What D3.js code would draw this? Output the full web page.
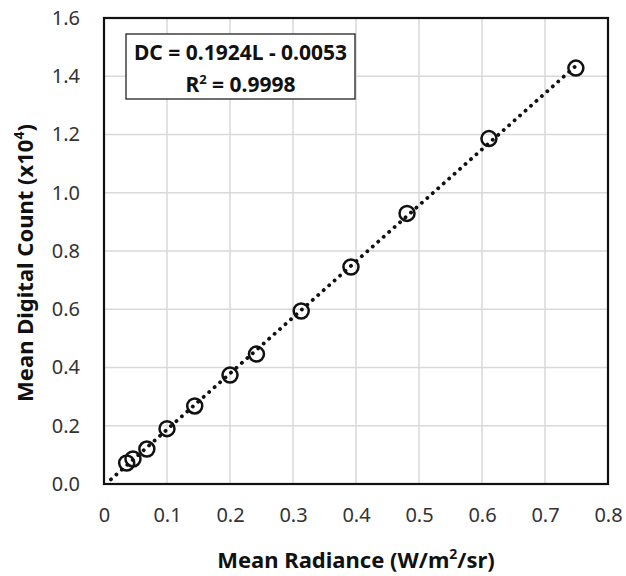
<!DOCTYPE html>
<html>
<head>
<meta charset="utf-8">
<script src="https://cdn.jsdelivr.net/npm/d3@7"></script>
<style>
  body { margin: 0; background: #fff; }
  svg { display: block; font-family: "Noto Sans", "Open Sans", sans-serif; }
</style>
</head>
<body>
<script>
// radiance (W/m2/sr) and digital count (x10^4)
const radiance = [0.036, 0.046, 0.068, 0.100, 0.144, 0.200, 0.242, 0.313, 0.392, 0.481, 0.611, 0.749];
const counts   = [0.072, 0.086, 0.120, 0.190, 0.268, 0.374, 0.446, 0.594, 0.745, 0.929, 1.186, 1.428];
const xTicks = [0, 0.1, 0.2, 0.3, 0.4, 0.5, 0.6, 0.7, 0.8];
const yTicks = [0, 0.2, 0.4, 0.6, 0.8, 1.0, 1.2, 1.4, 1.6];
// linear fit, in plot units
const fitSlope = 1.924, fitIntercept = -0.0053;
const fitRange = [0.011, 0.749];

const margin = {top: 18, right: 18, bottom: 92, left: 104};
const W = 626, H = 576;
const width = W - margin.left - margin.right;
const height = H - margin.top - margin.bottom;

const svg = d3.select('body').append('svg')
  .attr('width', W)
  .attr('height', H);

const g = svg.append('g')
  .attr('transform', `translate(${margin.left},${margin.top})`);

const x = d3.scaleLinear().domain([0, 0.8]).range([0, width]);
const y = d3.scaleLinear().domain([0, 1.6]).range([height, 0]);

// gridlines
g.append('g').selectAll('line').data(xTicks.slice(1, -1)).join('line')
  .attr('x1', d => x(d)).attr('x2', d => x(d))
  .attr('y1', 0).attr('y2', height)
  .attr('stroke', '#d9d9d9').attr('stroke-width', 1.5);
g.append('g').selectAll('line').data(yTicks.slice(1, -1)).join('line')
  .attr('x1', 0).attr('x2', width)
  .attr('y1', d => y(d)).attr('y2', d => y(d))
  .attr('stroke', '#d9d9d9').attr('stroke-width', 1.5);

// axes (labels only)
const xaxis = d3.axisBottom(x).tickValues(xTicks).tickSize(0).tickPadding(24)
  .tickFormat(d => d === 0 ? '0' : d3.format('.1f')(d));
const yaxis = d3.axisLeft(y).tickValues(yTicks).tickSize(0).tickPadding(24)
  .tickFormat(d3.format('.1f'));

const gx = g.append('g').attr('transform', `translate(0,${height})`).call(xaxis);
const gy = g.append('g').call(yaxis);
[gx, gy].forEach(a => {
  a.select('.domain').remove();
  a.selectAll('text').attr('font-size', 20).attr('fill', '#333')
    .attr('font-family', '"Noto Sans", sans-serif');
});

// frame
g.append('rect')
  .attr('width', width).attr('height', height)
  .attr('fill', 'none').attr('stroke', '#111').attr('stroke-width', 2.2);

// trendline
g.append('line')
  .attr('x1', x(fitRange[0])).attr('y1', y(fitSlope * fitRange[0] + fitIntercept))
  .attr('x2', x(fitRange[1])).attr('y2', y(fitSlope * fitRange[1] + fitIntercept))
  .attr('stroke', '#111').attr('stroke-width', 3.8)
  .attr('stroke-linecap', 'round').attr('stroke-dasharray', '0.1 7.2');

// points
g.append('g').selectAll('circle').data(radiance).join('circle')
  .attr('cx', d => x(d))
  .attr('cy', (d, i) => y(counts[i]))
  .attr('r', 7.5)
  .attr('fill', 'none').attr('stroke', '#111').attr('stroke-width', 2.5);

// equation box
const box = g.append('g').attr('transform', 'translate(22,16)');
box.append('rect').attr('width', 229).attr('height', 65)
  .attr('fill', '#fff').attr('stroke', '#222').attr('stroke-width', 1.3);
box.append('text').attr('x', 114.5).attr('y', 26)
  .attr('text-anchor', 'middle').attr('font-size', 21).attr('font-weight', 'bold')
  .attr('fill', '#111')
  .text('DC = 0.1924L - 0.0053');
box.append('text').attr('x', 114.5).attr('y', 58)
  .attr('text-anchor', 'middle').attr('font-size', 21).attr('font-weight', 'bold')
  .attr('fill', '#111')
  .html('R<tspan font-size="13" dy="-8">2</tspan><tspan dy="8"> = 0.9998</tspan>');

// axis titles
svg.append('text')
  .attr('x', margin.left + width / 2).attr('y', 568)
  .attr('text-anchor', 'middle').attr('font-size', 22).attr('font-weight', 'bold')
  .attr('fill', '#111')
  .html('Mean Radiance (W/m<tspan font-size="14" dy="-9">2</tspan><tspan dy="9">/sr)</tspan>');

svg.append('text')
  .attr('transform', `translate(33,${margin.top + height / 2 + 12}) rotate(-90)`)
  .attr('text-anchor', 'middle').attr('font-size', 22).attr('font-weight', 'bold')
  .attr('fill', '#111')
  .html('Mean Digital Count (x10<tspan font-size="14" dy="-9">4</tspan><tspan dy="9">)</tspan>');
</script>
</body>
</html>
